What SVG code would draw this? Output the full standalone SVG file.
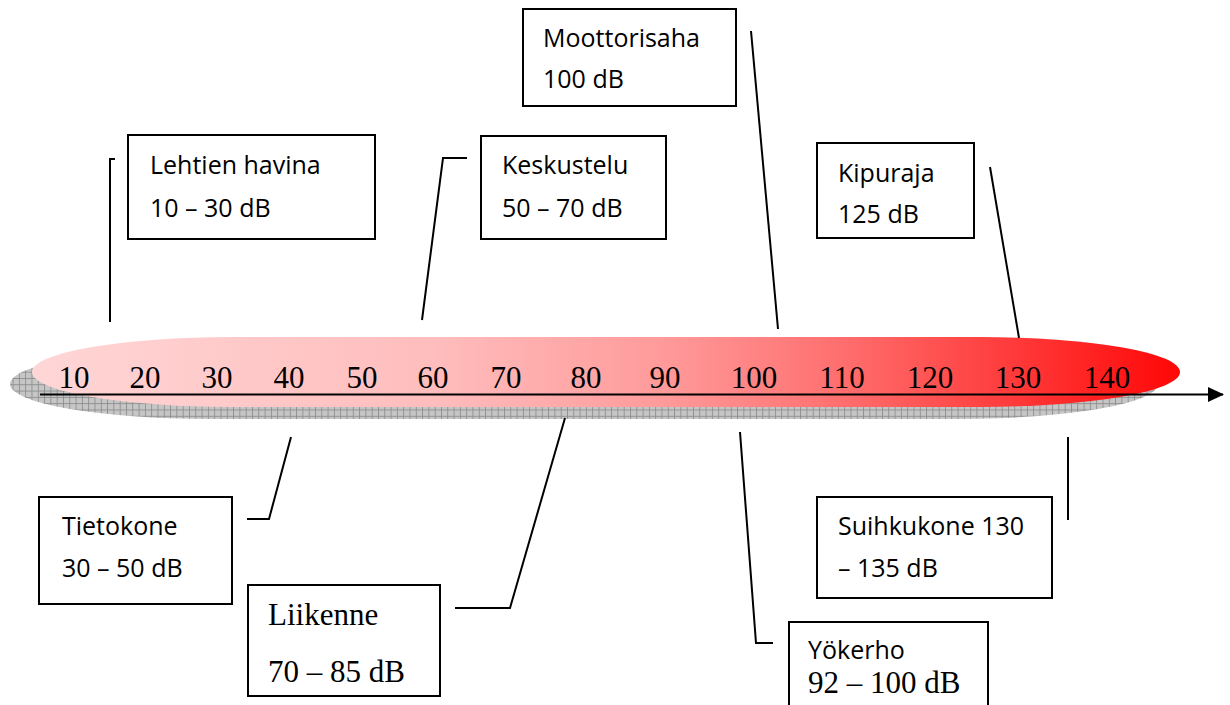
<svg xmlns="http://www.w3.org/2000/svg" width="1230" height="705" viewBox="0 0 1230 705">
<defs>
<linearGradient id="red" x1="32" y1="0" x2="1180" y2="0" gradientUnits="userSpaceOnUse">
<stop offset="0" stop-color="#ffd6d6"/>
<stop offset="0.35" stop-color="#ffbdbd"/>
<stop offset="0.55" stop-color="#ff9a9a"/>
<stop offset="0.7" stop-color="#ff7070"/>
<stop offset="1" stop-color="#ff0707"/>
</linearGradient>
<pattern id="grid" width="6.3" height="6.3" patternUnits="userSpaceOnUse">
<rect width="6.3" height="6.3" fill="#c6c6c6"/>
<path d="M0 0.5H6.3M0.5 0V6.3" stroke="#8e8e8e" stroke-width="0.9"/>
</pattern>
<marker id="arrow" markerWidth="16" markerHeight="15" refX="15" refY="7.5" orient="auto" markerUnits="userSpaceOnUse">
<path d="M0 0L16 7.5L0 15Z" fill="#000"/>
</marker>
</defs>
<style>
.box{fill:#fff;stroke:#000;stroke-width:2}
.sans{font-family:"Open Sans","Noto Sans","Liberation Sans",sans-serif;font-size:25px;fill:#000}
.serif{font-family:"Liberation Serif","Times New Roman",serif;fill:#000}
.tick{font-family:"Liberation Serif","Times New Roman",serif;font-size:31px;fill:#000;text-anchor:middle}
.conn{fill:none;stroke:#000;stroke-width:2}
</style>
<g id="scale">
<rect x="10" y="349" width="1148" height="70" rx="200" ry="35" fill="url(#grid)"/>
<rect x="32" y="337" width="1148" height="70" rx="200" ry="35" fill="url(#red)"/>
<g>
<text class="tick" x="74" y="388">10</text>
<text class="tick" x="145" y="388">20</text>
<text class="tick" x="217" y="388">30</text>
<text class="tick" x="289" y="388">40</text>
<text class="tick" x="362" y="388">50</text>
<text class="tick" x="433" y="388">60</text>
<text class="tick" x="506" y="388">70</text>
<text class="tick" x="586" y="388">80</text>
<text class="tick" x="665" y="388">90</text>
<text class="tick" x="754" y="388">100</text>
<text class="tick" x="842" y="388">110</text>
<text class="tick" x="930" y="388">120</text>
<text class="tick" x="1018" y="388">130</text>
<text class="tick" x="1107" y="388">140</text>
</g>
<line x1="40" y1="394.5" x2="1223" y2="394.5" stroke="#000" stroke-width="2.2" marker-end="url(#arrow)"/>
</g>
<g id="connectors">
<polyline class="conn" points="115,159 110,159 110,322"/>
<polyline class="conn" points="467,158 443,158 422,320"/>
<line class="conn" x1="751" y1="31" x2="778" y2="329"/>
<line class="conn" x1="990" y1="167" x2="1019" y2="338"/>
<polyline class="conn" points="247,519 269,519 291,437"/>
<polyline class="conn" points="455,608 510,608 565,418"/>
<polyline class="conn" points="740,432 756,643 773,643"/>
<line class="conn" x1="1068" y1="437" x2="1068" y2="520"/>
</g>
<g id="lehtien">
<rect class="box" x="128" y="135" width="247" height="104"/>
<text class="sans" x="150" y="174">Lehtien havina</text>
<text class="sans" x="150" y="217">10 – 30 dB</text>
</g>
<g id="keskustelu">
<rect class="box" x="481" y="136" width="185" height="103"/>
<text class="sans" x="502" y="174">Keskustelu</text>
<text class="sans" x="502" y="217">50 – 70 dB</text>
</g>
<g id="moottorisaha">
<rect class="box" x="523" y="9" width="213" height="97"/>
<text class="sans" x="543" y="47">Moottorisaha</text>
<text class="sans" x="543" y="88">100 dB</text>
</g>
<g id="kipuraja">
<rect class="box" x="817" y="143" width="157" height="95"/>
<text class="sans" x="838" y="182">Kipuraja</text>
<text class="sans" x="838" y="223">125 dB</text>
</g>
<g id="tietokone">
<rect class="box" x="39" y="497" width="193" height="107"/>
<text class="sans" x="62" y="535">Tietokone</text>
<text class="sans" x="62" y="577">30 – 50 dB</text>
</g>
<g id="suihkukone">
<rect class="box" x="817" y="497" width="235" height="101"/>
<text class="sans" x="838" y="535">Suihkukone 130</text>
<text class="sans" x="838" y="577">– 135 dB</text>
</g>
<g id="liikenne">
<rect class="box" x="248" y="585" width="192" height="111"/>
<text class="serif" x="268" y="625" font-size="31">Liikenne</text>
<text class="serif" x="268" y="682" font-size="31">70 – 85 dB</text>
</g>
<g id="yokerho">
<rect class="box" x="789" y="622" width="199" height="100"/>
<text class="sans" x="808" y="659" font-size="21">Yökerho</text>
<text class="serif" x="808" y="693" font-size="31">92 – 100 dB</text>
</g>
</svg>
